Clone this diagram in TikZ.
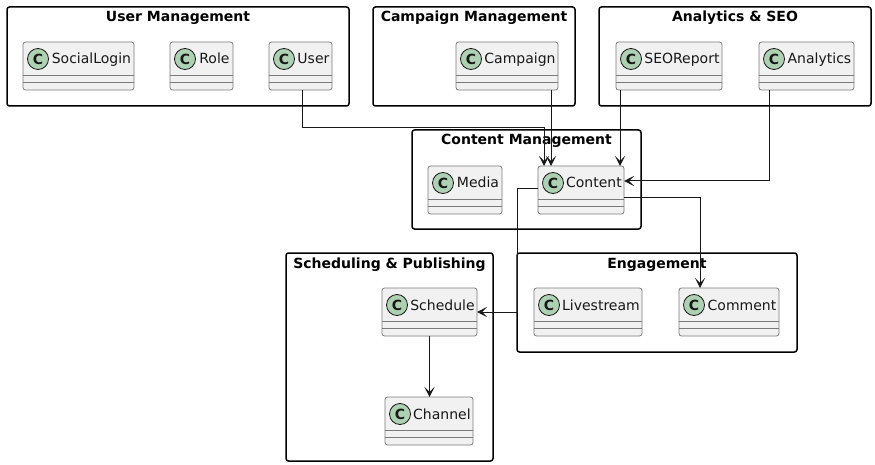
\documentclass[tikz,border=0pt]{standalone}
\usepackage{fontspec}
\setmainfont{DejaVu Sans}
\usetikzlibrary{arrows.meta,calc}
\definecolor{clsfill}{HTML}{F1F1F1}
\definecolor{clsborder}{HTML}{7A7A7A}
\definecolor{circfill}{HTML}{ADD1B2}
\definecolor{ink}{HTML}{181818}
\tikzset{
  classbox/.style={draw=clsborder, fill=clsfill, line width=0.8pt, rounded corners=2.5pt, inner sep=0pt, outer sep=0pt},
  sepline/.style={draw=clsborder, line width=0.8pt},
  circC/.style={circle, draw=ink, fill=circfill, line width=0.8pt, minimum size=21pt, inner sep=0pt, text=ink, font=\fontsize{14}{14}\selectfont\bfseries},
  clabel/.style={inner sep=0pt, text=ink, font=\fontsize{14}{16}\selectfont},
  pkgbox/.style={draw=black, line width=1.5pt, rounded corners=2.5pt, inner sep=0pt, outer sep=0pt},
  pkgtitle/.style={inner sep=0pt, anchor=base, text=black, font=\fontsize{14}{16}\selectfont\bfseries},
  arr/.style={draw=ink, line width=1pt, -{Stealth[length=10pt,width=10pt,inset=5pt]}},
}
\newcommand\umlclass[6]{%
  \node[classbox, minimum width={(#5-#3)*1pt}, minimum height={(#6-#4)*1pt}] (#1) at ({(#3+#5)/2},{(#4+#6)/2}) {};
  \draw[sepline] ([yshift=-33pt]#1.north west) -- ([yshift=-33pt]#1.north east);
  \draw[sepline] ([yshift=-40.5pt]#1.north west) -- ([yshift=-40.5pt]#1.north east);
  \node[circC] (#1-c) at ([xshift=15pt,yshift=-17pt]#1.north west) {C};
  \path let \p1=(#1-c.east), \p2=(#1.north east) in
    node[clabel, anchor=base] (#1-t) at ({(\x1+\x2)/2},{\y2-22pt}) {#2};
}
\newcommand\umlpkg[6]{%
  \node[pkgbox, minimum width={(#5-#3)*1pt}, minimum height={(#6-#4)*1pt}] (#1) at ({(#3+#5)/2},{(#4+#6)/2}) {};
  \node[pkgtitle] (#1-t) at ([yshift=-15pt]#1.north) {#2};
}
\begin{document}
\begin{tikzpicture}[x=1pt,y=-1pt]
\useasboundingbox (0,0) rectangle (875,465);
\fill[white] (0,0) rectangle (875,465);
% packages
\umlpkg{pkgUser}{User Management}{7}{7}{349}{106}
\umlpkg{pkgCampaign}{Campaign Management}{373}{7}{575}{106}
\umlpkg{pkgAnalytics}{Analytics \& SEO}{599}{7}{871}{106}
\umlpkg{pkgContent}{Content Management}{412}{130}{641}{229}
\umlpkg{pkgEngagement}{Engagement}{517}{253}{797}{352}
\umlpkg{pkgScheduling}{Scheduling \& Publishing}{286}{253}{493}{461}
% classes
\umlclass{sociallogin}{SocialLogin}{23}{42}{134}{90}
\umlclass{role}{Role}{170}{42}{233}{90}
\umlclass{user}{User}{269}{42}{332}{90}
\umlclass{campaign}{Campaign}{456}{42}{558}{90}
\umlclass{seoreport}{SEOReport}{616}{42}{722}{90}
\umlclass{analytics}{Analytics}{759}{42}{854}{90}
\umlclass{media}{Media}{428}{166}{502}{214}
\umlclass{content}{Content}{538}{166}{624}{214}
\umlclass{livestream}{Livestream}{534}{288}{642}{336}
\umlclass{comment}{Comment}{679}{288}{779}{336}
\umlclass{schedule}{Schedule}{382}{288}{477}{336}
\umlclass{channel}{Channel}{385}{397}{473}{445}
% connectors
\draw[arr] ([xshift=1.5pt]user.south) -- ++(0,38) -| ([xshift=-37pt]content.north);
\draw[arr] ([xshift=-30pt]content.north |- campaign.south) -- ([xshift=-30pt]content.north);
\draw[arr] ([xshift=39pt]content.north |- seoreport.south) -- ([xshift=39pt]content.north);
\draw[arr] ([xshift=-37.5pt]analytics.south) |- ([yshift=9pt]content.east);
\draw[arr] ([yshift=-8pt]content.east) -| ([xshift=-29pt]comment.north);
\draw[arr] ([yshift=1pt]content.west) -| ([xshift=40pt]schedule.east) -- (schedule.east);
\draw[arr] (schedule.south) -- (schedule.south |- channel.north);
\end{tikzpicture}
\end{document}
